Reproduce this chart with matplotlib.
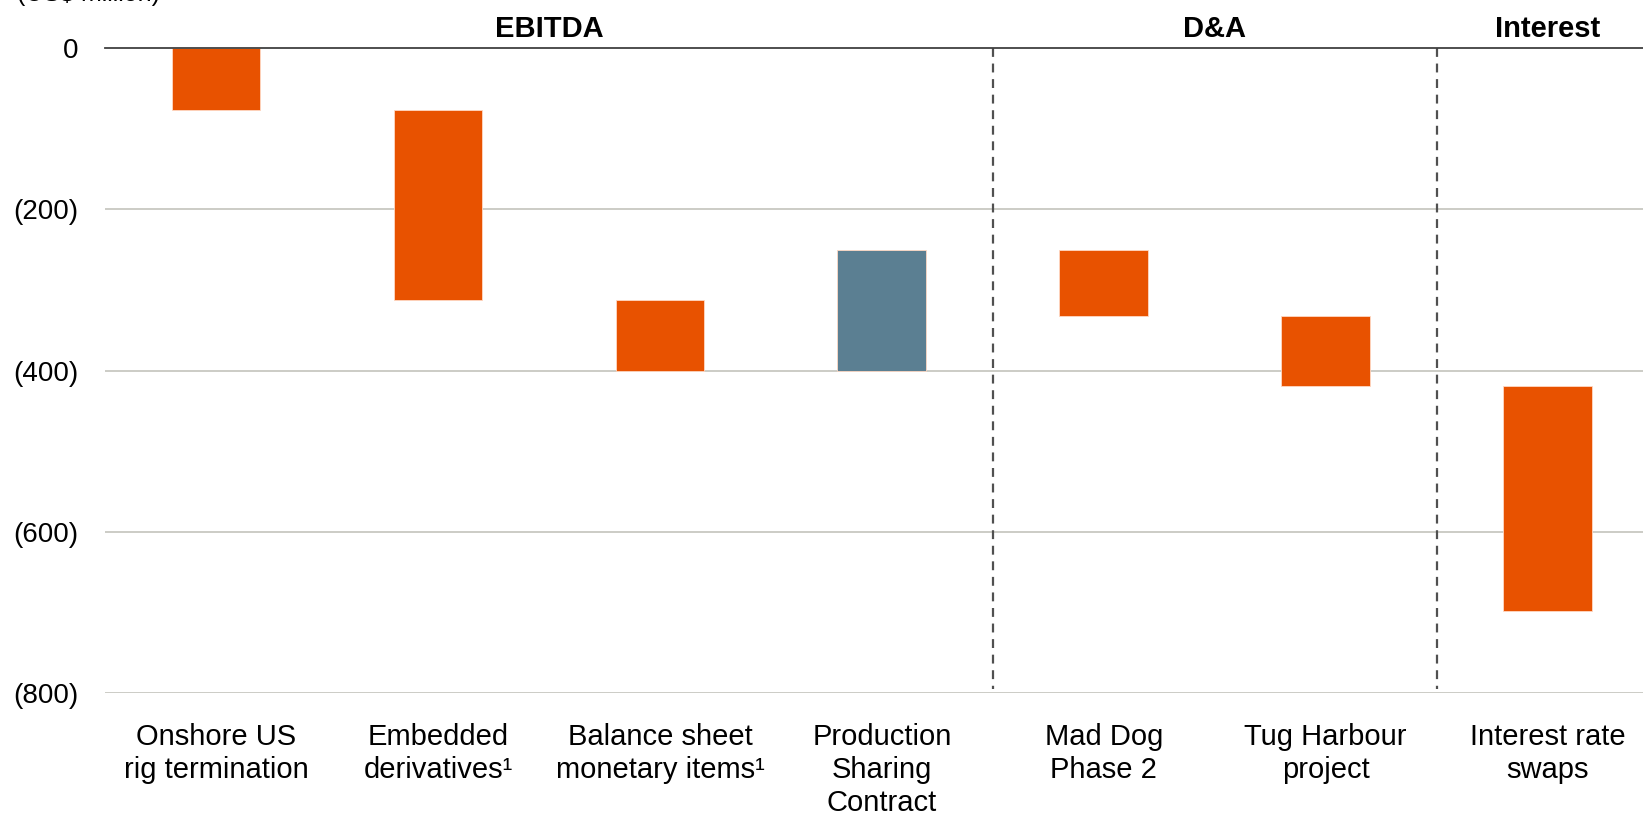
import matplotlib
matplotlib.use("Agg")
import matplotlib.pyplot as plt

plt.rcParams['font.family'] = ['Liberation Sans', 'DejaVu Sans']

# data (US$ million), waterfall steps
labels = ['Onshore US\nrig termination', 'Embedded\nderivatives\u00b9',
          'Balance sheet\nmonetary items\u00b9', 'Production\nSharing\nContract',
          'Mad Dog\nPhase 2', 'Tug Harbour\nproject', 'Interest rate\nswaps']
starts = [0, -77, -312, -401, -251, -332, -419]
ends = [-77, -312, -401, -251, -332, -419, -699]
groups = ['EBITDA', 'D&A', 'Interest']
group_pos = [1.5, 4.5, 6.0]
dividers = [3.5, 5.5]
yticks = [0, -200, -400, -600, -800]
yticklabels = ['0', '(200)', '(400)', '(600)', '(800)']

orange = '#E85200'
blue = '#5B7F92'

fig = plt.figure(figsize=(16.43, 8.17), dpi=100)
ax = fig.add_axes([0.064, 0.152, 0.936, 0.789])

x = list(range(len(labels)))
bottoms = [min(s, e) for s, e in zip(starts, ends)]
heights = [abs(e - s) for s, e in zip(starts, ends)]
colors = [blue if e > s else orange for s, e in zip(starts, ends)]
ax.bar(x, heights, bottom=bottoms, width=0.4, color=colors,
       edgecolor='#FFD9C4', linewidth=0.6, zorder=3)

ax.set_xlim(-0.5, 6.43)
ax.set_ylim(-800, 0)
ax.set_yticks(yticks)
ax.set_yticklabels(yticklabels, fontsize=20)
ax.set_xticks(x)
ax.set_xticklabels(labels, fontsize=21, linespacing=1.22, va='top')
ax.tick_params(axis='both', length=0)
ax.tick_params(axis='y', pad=19)
ax.tick_params(axis='x', pad=22)

for t in yticks[1:]:
    ax.axhline(t, color='#C4C4BC', linewidth=1.2, zorder=1)
ax.axhline(0, color='#404040', linewidth=1.3, zorder=4, clip_on=False)

for s in ax.spines.values():
    s.set_visible(False)

for d in dividers:
    ax.plot([d, d], [0, -795], color='#505050', linestyle=(0, (4, 3)),
            linewidth=1.6, zorder=2)

for g, p in zip(groups, group_pos):
    ax.text(p, 6, g, ha='center', va='bottom', fontsize=21,
            fontweight='bold', clip_on=False)

# unit label, mostly cut off at the top edge as in the source
fig.text(17 / 1643, 1 - 6 / 817, '(US$ million)', fontsize=18,
         ha='left', va='bottom')

fig.savefig('out.png', dpi=100)
